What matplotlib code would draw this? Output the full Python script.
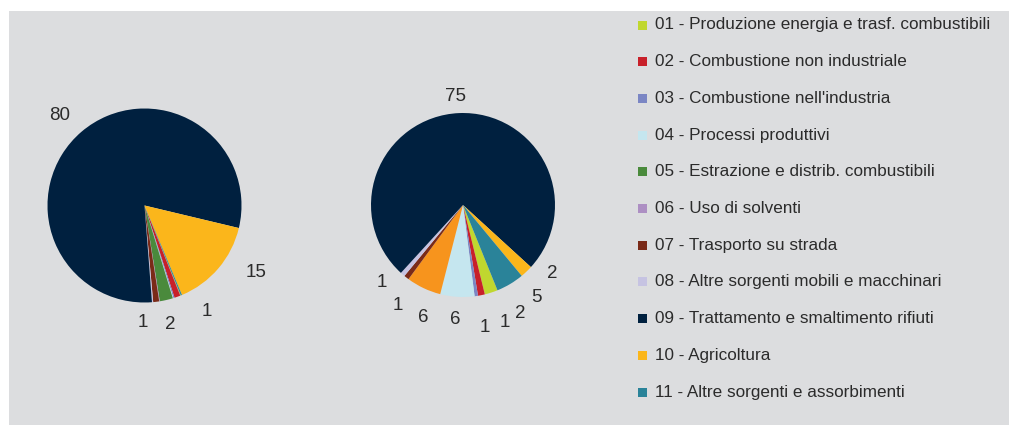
import numpy as np
import matplotlib.pyplot as plt
from matplotlib.patches import Rectangle

plt.rcParams['font.family'] = ['Liberation Sans', 'DejaVu Sans']

categories = [
    "01 - Produzione energia e trasf. combustibili",
    "02 - Combustione non industriale",
    "03 - Combustione nell'industria",
    "04 - Processi produttivi",
    "05 - Estrazione e distrib. combustibili",
    "06 - Uso di solventi",
    "07 - Trasporto su strada",
    "08 - Altre sorgenti mobili e macchinari",
    "09 - Trattamento e smaltimento rifiuti",
    "10 - Agricoltura",
    "11 - Altre sorgenti e assorbimenti",
]
colors = ["#c0d72f", "#c8202a", "#7b86c4", "#c5e6ef", "#4a8a3c", "#ad8fc3",
          "#7a2a18", "#c6c3e2", "#00203f", "#fbb61b", "#2a8399"]

# percent shares
left_values = [0.1, 1.0, 0.2, 0.1, 2.2, 0.1, 1.0, 0.2, 80.2, 15.0, 0.2]
right_values = [2.3, 1.2, 0.6, 6.0, 0.0, 6.1, 0.9, 0.8, 75.0, 2.2, 4.9]
right_colors = colors[:5] + ["#f7941d"] + colors[6:]

# where the value labels sit: (angle in degrees, distance in radii), per category
left_label_pos = {1: (-59.4, 1.27), 4: (-77.9, 1.25), 6: (-90.6, 1.21),
                  8: (133.4, 1.27), 9: (-31.1, 1.34)}
right_label_pos = {0: (-62.0, 1.33), 1: (-70.4, 1.36), 2: (-79.8, 1.35),
                   3: (-94.0, 1.25), 5: (-109.5, 1.30), 6: (-123.0, 1.30),
                   7: (-136.0, 1.22), 8: (94.2, 1.18), 9: (-37.7, 1.22),
                   10: (-51.5, 1.29)}

W, H = 1009, 425
fig = plt.figure(figsize=(W / 100, H / 100), dpi=100)
fig.patch.set_facecolor("white")
fig.add_artist(Rectangle((9 / W, 0), 1, (H - 11) / H, transform=fig.transFigure,
                         facecolor="#dcdddf", edgecolor="none", zorder=0))

text_color = "#2b2b2b"


def draw_pie(cx, cy, r, values, cols, label_pos):
    half = 150
    ax = fig.add_axes([(cx - half) / W, 1 - (cy + half) / H, 2 * half / W, 2 * half / H])
    ax.axis("off")
    ax.pie(values, colors=cols, startangle=-68, counterclock=False,
           radius=r / 100, wedgeprops=dict(linewidth=0))
    for i, (ang, dist) in label_pos.items():
        a = np.deg2rad(ang)
        rr = dist * r / 100
        ax.text(rr * np.cos(a), rr * np.sin(a), str(round(values[i])),
                fontsize=13.5, color=text_color, ha="center", va="center")
    ax.set_xlim(-1.5, 1.5)
    ax.set_ylim(-1.5, 1.5)
    return ax


draw_pie(144.5, 205.5, 97, left_values, colors, left_label_pos)
draw_pie(463, 205, 92, right_values, right_colors, right_label_pos)

# legend
row0, step = 25, 36.7
for i, (name, c) in enumerate(zip(categories, colors)):
    y = row0 + i * step
    fig.add_artist(Rectangle((638 / W, 1 - (y + 4.5) / H), 9 / W, 9 / H,
                             transform=fig.transFigure, facecolor=c,
                             edgecolor="none"))
    fig.text(655 / W, 1 - y / H, name, fontsize=12.3, color=text_color,
             va="center", ha="left")

fig.savefig("out.png", dpi=100, facecolor=fig.get_facecolor())
